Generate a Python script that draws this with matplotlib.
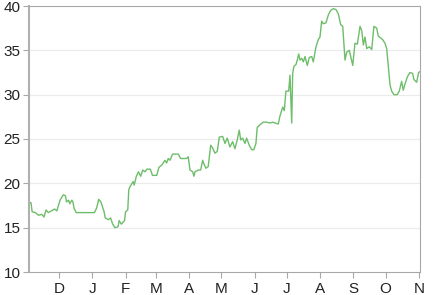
import matplotlib
matplotlib.use("Agg")
import matplotlib.pyplot as plt

# days counted from 1 Nov
days = [2, 4, 5, 8, 11, 14, 16, 18, 20, 23, 26, 28, 31, 34, 36, 37, 39, 40, 42, 43, 44,
        46, 63, 65, 67, 69, 72, 73, 76, 78, 80, 82, 85, 86, 88, 91, 92, 94, 95, 96,
        99, 100, 102, 104, 106, 108, 110, 112, 115, 117, 121, 123, 126, 127, 128.6, 130.2,
        131.7, 133.3, 135.8, 141, 143.2, 148.8, 150.3, 151.9, 154.4, 155.6, 156.6, 159.6,
        161.9, 163.7, 165.2, 166.8, 168.9, 171.2, 173, 175.2, 177.3, 179.2, 182.3, 184.5,
        186.6, 189.1, 191.6, 193.8, 195.9, 197.8, 199.1, 200.9, 203.1, 204.6, 207.1, 209.3,
        211.4, 213.3, 214.5, 217, 220.1, 223.3, 226.4, 228.9, 231, 234.1, 235.7, 238.2,
        239.7, 241.2, 243.8, 245, 246.6, 247.5, 248.7, 250.6, 251.8, 253.1, 254.3, 255.9,
        257.4, 259, 261.1, 263, 265.2, 266.7, 269.2, 271.3, 272.9, 274.5, 276, 278.5,
        280.7, 282.9, 285.3, 287.8, 290, 292.2, 294.1, 296.2, 297.8, 300.2, 303.4, 305.5,
        307.7, 310.2, 311.8, 313.3, 314.8, 316.4, 318.8, 321.1, 323.1, 325.7, 327.2, 329.4,
        331.3, 333.4, 335, 336.5, 338.1, 339.6, 341.8, 344.8, 346.7, 348.9, 350.4, 352,
        354.2, 356.6, 359.1, 360.4, 362.9, 364.7, 366]
values = [17.9, 17.8, 16.8, 16.7, 16.4, 16.5, 16.2, 17.0, 16.7, 16.9, 17.1, 16.9, 18.1, 18.7,
          18.6, 17.9, 18.1, 17.7, 18.1, 17.9, 17.2, 16.7, 16.7, 17.2, 18.2, 17.9, 16.8, 16.1,
          15.9, 16.1, 15.4, 15.0, 15.1, 15.8, 15.4, 15.8, 16.8, 17.0, 19.3, 19.6, 20.2,
          19.8, 20.8, 21.3, 20.8, 21.5, 21.3, 21.6, 21.6, 20.9, 20.9, 21.8, 22.1, 22.3, 22.6,
          22.3, 22.8, 22.6, 23.3, 23.3, 22.8, 22.8, 23.0, 21.5, 21.3, 20.8, 21.3, 21.5, 21.5,
          22.6, 22.1, 21.7, 21.9, 24.3, 24.0, 23.4, 23.6, 25.2, 25.3, 24.5, 25.1, 24.1, 24.7,
          23.9, 24.9, 26.0, 24.9, 25.1, 24.5, 25.1, 24.3, 23.8, 23.8, 24.5, 26.3, 26.6, 26.9,
          26.9, 26.8, 26.9, 26.8, 26.7, 27.6, 28.6, 28.2, 30.4, 30.4, 32.2, 26.8, 32.4, 33.2,
          33.4, 33.9, 34.6, 33.9, 34.1, 33.7, 34.3, 33.3, 34.2, 34.3, 33.7, 35.4, 36.2, 36.5,
          38.3, 38.0, 38.1, 39.0, 39.5, 39.7, 39.6, 39.1, 37.9, 37.7, 33.9, 34.8, 35.0, 33.3,
          35.8, 35.7, 37.7, 37.2, 35.6, 36.5, 35.2, 35.4, 35.1, 37.7, 37.5, 36.6, 36.4, 36.2,
          35.8, 35.2, 33.2, 31.1, 30.4, 30.0, 30.0, 30.4, 31.5, 30.5, 31.2, 32.0, 32.5, 32.4,
          31.7, 31.4, 32.5, 32.6]

month_days = [30, 61, 92, 120, 151, 181, 212, 242, 273, 304, 334, 365]
month_labels = ["D", "J", "F", "M", "A", "M", "J", "J", "A", "S", "O", "N"]
y_ticks = [10, 15, 20, 25, 30, 35, 40]

plt.rcParams['font.family'] = ['Liberation Sans', 'DejaVu Sans']

fig = plt.figure(figsize=(4.33, 2.95), dpi=100)
ax = fig.add_axes([29/433, 23/295, 391/433, 266/295])

ax.plot(days, values, color='#6dbd6a', linewidth=1.0)

ax.set_xlim(2.1, 366)
ax.set_ylim(10, 40)
ax.set_yticks(y_ticks)
ax.set_xticks(month_days)
ax.set_xticklabels(month_labels)

for y in y_ticks[1:-1]:
    ax.axhline(y, color='#ebebeb', linewidth=0.8, zorder=0)

for side in ['top', 'right', 'bottom']:
    ax.spines[side].set_color('#a8a8a8')
    ax.spines[side].set_linewidth(0.8)
ax.spines['left'].set_color('#b0b0b0')
ax.spines['left'].set_linewidth(1.5)

ax.tick_params(axis='both', colors='#a8a8a8', labelcolor='#222222', labelsize=11,
               length=4, width=0.8, pad=2)
ax.tick_params(axis='x', pad=3)

fig.savefig("out.png", dpi=100)
